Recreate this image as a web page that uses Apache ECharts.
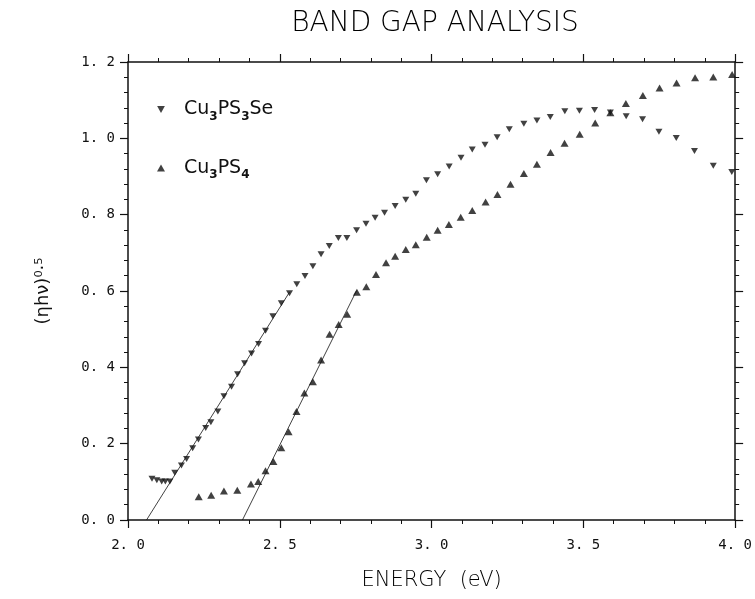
<!DOCTYPE html>
<html lang="en">
<head>
    <meta charset="UTF-8">
    <title>Band Gap Analysis</title>
    <script src="https://cdn.jsdelivr.net/npm/echarts@6/dist/echarts.min.js"></script>
    <style>
        html, body { margin: 0; padding: 0; background: #fff; }
    </style>
</head>
<body>
    <div id="main" style="width: 755px;height: 599px;"></div>
    <script>
        // Cu3PS3Se (down triangles), [energy eV, (ahv)^0.5]
        var seData = [
            [2.079, 0.108], [2.095, 0.104], [2.111, 0.101], [2.123, 0.101], [2.138, 0.101],
            [2.154, 0.124], [2.176, 0.143], [2.193, 0.160], [2.213, 0.188], [2.232, 0.211],
            [2.256, 0.241], [2.273, 0.256], [2.296, 0.284], [2.316, 0.324], [2.341, 0.349],
            [2.361, 0.382], [2.384, 0.411], [2.407, 0.436], [2.430, 0.461], [2.453, 0.496],
            [2.477, 0.534], [2.505, 0.568], [2.532, 0.594], [2.556, 0.618], [2.583, 0.639],
            [2.609, 0.665], [2.636, 0.696], [2.663, 0.718], [2.693, 0.739], [2.721, 0.739],
            [2.753, 0.759], [2.784, 0.776], [2.814, 0.792], [2.845, 0.805], [2.880, 0.823],
            [2.915, 0.839], [2.948, 0.855], [2.983, 0.890], [3.020, 0.906], [3.058, 0.926],
            [3.097, 0.949], [3.134, 0.971], [3.176, 0.983], [3.216, 1.003], [3.256, 1.024],
            [3.304, 1.038], [3.347, 1.047], [3.391, 1.056], [3.439, 1.071], [3.487, 1.072],
            [3.537, 1.074], [3.589, 1.068], [3.641, 1.058], [3.695, 1.050], [3.749, 1.017],
            [3.806, 1.001], [3.866, 0.967], [3.928, 0.928], [3.989, 0.912]
        ];

        // Cu3PS4 (up triangles)
        var s4Data = [
            [2.233, 0.061], [2.274, 0.065], [2.316, 0.076], [2.360, 0.078], [2.405, 0.094],
            [2.429, 0.101], [2.453, 0.129], [2.479, 0.153], [2.505, 0.189], [2.529, 0.231],
            [2.555, 0.284], [2.581, 0.333], [2.609, 0.362], [2.636, 0.419], [2.664, 0.487],
            [2.694, 0.512], [2.722, 0.539], [2.754, 0.597], [2.785, 0.611], [2.817, 0.643],
            [2.850, 0.674], [2.880, 0.691], [2.915, 0.709], [2.948, 0.721], [2.984, 0.741],
            [3.020, 0.759], [3.057, 0.774], [3.096, 0.793], [3.134, 0.811], [3.178, 0.833],
            [3.217, 0.853], [3.260, 0.880], [3.304, 0.908], [3.347, 0.932], [3.392, 0.963],
            [3.438, 0.987], [3.488, 1.011], [3.539, 1.040], [3.589, 1.067], [3.640, 1.091],
            [3.696, 1.112], [3.751, 1.132], [3.807, 1.145], [3.868, 1.159], [3.928, 1.161],
            [3.990, 1.167]
        ];

        // linear extrapolations to the energy axis
        var seFit = [[2.061, 0], [2.532, 0.597]];
        var s4Fit = [[2.377, 0], [2.753, 0.601]];

        var downTri = 'path://M0,0L10,0L5,9Z';
        var font = 'DejaVu Sans';
        var ink = '#111';

        function tickText(v) {
            return v.toFixed(1).replace('.', '. ');
        }

        var chart = echarts.init(document.getElementById('main'));

        var axisLine = { show: true, onZero: false, lineStyle: { color: ink, width: 1.5 } };
        var tick = { show: true, inside: false, length: 8, lineStyle: { color: ink, width: 1.2 } };
        var minor = { show: true, splitNumber: 5, length: 4, lineStyle: { color: ink, width: 1 } };

        var option = {
            animation: false,
            backgroundColor: '#fff',
            title: {
                text: 'BAND GAP ANALYSIS',
                left: 430,
                top: 5,
                textAlign: 'center',
                textStyle: { fontFamily: font, fontSize: 28, fontWeight: 200, color: '#000' }
            },
            grid: { left: 128, right: 18, top: 62, bottom: 79 },
            legend: {
                orient: 'vertical',
                left: 152,
                top: 95,
                itemGap: 36,
                itemWidth: 8,
                itemHeight: 7,
                data: [
                    { name: 'Cu3PS3Se', icon: downTri },
                    { name: 'Cu3PS4', icon: 'triangle' }
                ],
                formatter: function (name) {
                    if (name === 'Cu3PS3Se') {
                        return '{g|}{n|Cu}{s|3}{n|PS}{s|3}{n|Se}';
                    }
                    return '{g|}{n|Cu}{s|3}{n|PS}{s|4}';
                },
                textStyle: {
                    color: ink,
                    rich: {
                        g: { width: 14 },
                        n: { fontFamily: font, fontSize: 19, lineHeight: 26, color: ink },
                        s: { fontFamily: font, fontSize: 12, fontWeight: 'bold', lineHeight: 12,
                             verticalAlign: 'bottom', color: ink }
                    }
                }
            },
            xAxis: [{
                type: 'value', position: 'bottom', min: 2, max: 4, interval: 0.5,
                name: 'ENERGY  (eV)', nameLocation: 'middle', nameGap: 50,
                nameTextStyle: { fontFamily: font, fontSize: 21, fontWeight: 200, color: '#000' },
                axisLine: axisLine, axisTick: tick, minorTick: minor,
                splitLine: { show: false },
                axisLabel: { margin: 18, fontFamily: 'DejaVu Sans Mono', fontSize: 14, color: ink,
                             formatter: tickText }
            }, {
                type: 'value', position: 'top', min: 2, max: 4, interval: 0.5,
                axisLine: axisLine, axisTick: tick, minorTick: minor,
                splitLine: { show: false }, axisLabel: { show: false }
            }],
            yAxis: [{
                type: 'value', position: 'left', min: 0, max: 1.2, interval: 0.2,
                name: '(ηhν)⁰·⁵', nameLocation: 'middle', nameGap: 76, nameRotate: 90,
                nameTextStyle: { fontFamily: font, fontSize: 18, color: ink },
                axisLine: axisLine, axisTick: tick, minorTick: minor,
                splitLine: { show: false },
                axisLabel: { margin: 13, fontFamily: 'DejaVu Sans Mono', fontSize: 14, color: ink,
                             formatter: tickText }
            }, {
                type: 'value', position: 'right', min: 0, max: 1.2, interval: 0.2,
                axisLine: axisLine, axisTick: tick, minorTick: minor,
                splitLine: { show: false }, axisLabel: { show: false }
            }],
            series: [{
                name: 'Cu3PS3Se',
                type: 'scatter',
                symbol: downTri,
                symbolSize: [7, 6],
                itemStyle: { color: ink },
                data: seData,
                z: 5
            }, {
                name: 'Cu3PS4',
                type: 'scatter',
                symbol: 'triangle',
                symbolSize: [8, 7],
                itemStyle: { color: ink },
                data: s4Data,
                z: 5
            }, {
                name: 'fit1',
                type: 'line',
                showSymbol: false,
                symbol: 'none',
                lineStyle: { color: ink, width: 0.8 },
                data: seFit,
                z: 3
            }, {
                name: 'fit2',
                type: 'line',
                showSymbol: false,
                symbol: 'none',
                lineStyle: { color: ink, width: 0.8 },
                data: s4Fit,
                z: 3
            }]
        };
        chart.setOption(option);
    </script>
</body>
</html>
